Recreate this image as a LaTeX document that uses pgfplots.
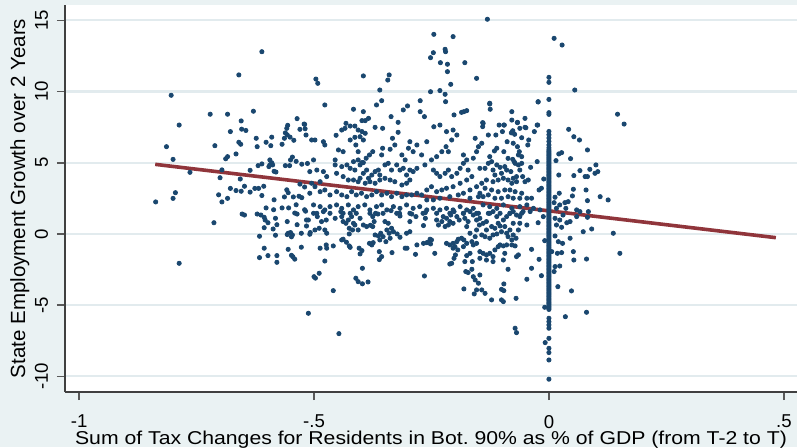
\documentclass[border=0pt]{standalone}
\usepackage{pgfplots}
\pgfplotsset{compat=1.18}
\usepackage{pgfplotstable}
\usepackage{fontspec}
\setmainfont{Liberation Sans}

\definecolor{stnavy}{RGB}{26,71,111}
\definecolor{stmaroon}{RGB}{144,53,59}
\definecolor{stbg}{RGB}{234,242,243}
\definecolor{stgrid}{RGB}{226,235,238}

% state-by-period observations: tax change (x) vs. employment growth (y)
\pgfplotstableread{
x y
-0.804 9.74
-0.721 8.41
-0.684 8.41
-0.629 8.62
-0.787 7.65
-0.655 7.94
-0.678 7.19
-0.654 7.36
-0.645 7.27
-0.536 8.10
-0.556 7.63
-0.558 7.42
-0.561 7.10
-0.557 6.96
-0.521 7.72
-0.519 7.39
-0.517 6.95
-0.814 6.13
-0.711 6.20
-0.660 6.44
-0.656 6.30
-0.623 6.72
-0.621 6.13
-0.602 6.44
-0.590 6.80
-0.592 6.20
-0.568 6.30
-0.563 6.72
-0.551 6.80
-0.543 6.58
-0.800 5.24
-0.666 5.62
-0.684 5.43
-0.688 5.28
-0.594 5.20
-0.590 5.00
-0.594 4.85
-0.588 4.85
-0.596 4.73
-0.611 4.92
-0.619 4.80
-0.561 4.80
-0.552 4.80
-0.550 5.20
-0.546 5.40
-0.538 5.10
-0.526 4.90
-0.514 4.95
-0.764 4.33
-0.696 4.50
-0.700 3.95
-0.657 3.86
-0.636 4.47
-0.585 4.40
-0.581 4.35
-0.678 3.20
-0.666 3.05
-0.655 3.00
-0.648 3.35
-0.636 2.94
-0.626 3.20
-0.618 3.20
-0.607 3.35
-0.611 2.70
-0.703 2.75
-0.684 2.50
-0.696 2.25
-0.795 2.90
-0.800 2.50
-0.837 2.25
-0.585 2.40
-0.563 2.60
-0.558 3.10
-0.555 2.90
-0.544 2.60
-0.532 2.65
-0.526 2.55
-0.530 3.50
-0.520 3.30
-0.602 1.83
-0.586 1.70
-0.568 1.83
-0.554 1.83
-0.538 2.05
-0.520 1.70
-0.541 1.47
-0.653 1.40
-0.621 1.40
-0.611 12.80
-0.660 11.17
-0.648 1.33
-0.713 0.79
-0.787 -2.06
-0.613 1.33
-0.606 1.17
-0.604 0.98
-0.598 0.79
-0.582 1.10
-0.579 0.65
-0.587 0.35
-0.606 0.44
-0.616 -0.16
-0.582 -0.09
-0.606 -1.00
-0.616 -1.66
-0.598 -1.52
-0.579 -1.52
-0.579 -1.99
-0.557 0.87
-0.555 0.05
-0.550 0.10
-0.546 -0.07
-0.548 -0.20
-0.557 -0.04
-0.555 -1.08
-0.548 -1.50
-0.545 -1.60
-0.541 -1.77
-0.536 0.65
-0.527 0.05
-0.527 -0.93
-0.516 0.98
-0.516 0.56
-0.512 0.98
-0.536 1.40
-0.518 1.60
-0.508 0.10
-0.512 -5.57
-0.509 -0.02
-0.501 1.45
-0.493 1.22
-0.480 1.57
-0.484 0.87
-0.474 0.98
-0.498 0.28
-0.489 0.40
-0.477 0.28
-0.473 0.05
-0.487 -1.00
-0.474 -0.77
-0.473 -1.00
-0.459 -0.84
-0.477 -1.90
-0.500 -3.00
-0.497 -3.10
-0.489 -2.76
-0.459 -3.98
-0.447 -7.00
-0.455 1.10
-0.441 -0.42
-0.438 -0.37
-0.431 -0.58
-0.425 -0.84
-0.423 -0.94
-0.443 1.57
-0.441 1.22
-0.438 0.87
-0.432 0.75
-0.427 0.98
-0.420 1.22
-0.423 1.45
-0.416 0.75
-0.425 0.40
-0.418 0.28
-0.413 0.63
-0.425 0.00
-0.406 0.28
-0.402 1.10
-0.395 0.63
-0.388 0.52
-0.380 0.61
-0.404 -1.00
-0.398 -1.17
-0.402 -1.40
-0.397 -2.41
-0.411 -3.11
-0.406 -3.35
-0.397 -3.50
-0.385 -3.37
-0.382 -0.66
-0.377 -0.77
-0.374 -0.61
-0.370 -0.07
-0.363 -0.14
-0.360 -0.42
-0.358 0.05
-0.353 -0.19
-0.375 1.22
-0.369 1.45
-0.364 1.40
-0.372 0.87
-0.375 0.52
-0.349 0.87
-0.342 0.75
-0.345 0.28
-0.340 0.05
-0.335 0.40
-0.331 0.16
-0.323 0.00
-0.317 -0.23
-0.338 -0.30
-0.347 -0.54
-0.361 -1.24
-0.356 -1.59
-0.361 -1.80
-0.334 -1.31
-0.336 1.64
-0.318 1.45
-0.317 1.26
-0.292 1.40
-0.283 1.22
-0.263 1.50
-0.263 1.10
-0.296 0.87
-0.303 0.05
-0.296 0.16
-0.306 -1.00
-0.302 -1.00
-0.281 -0.77
-0.284 -1.43
-0.265 -2.95
-0.267 -0.66
-0.260 -0.61
-0.255 -0.56
-0.253 -0.37
-0.250 -0.42
-0.252 -0.70
-0.243 -1.36
-0.267 0.59
-0.239 0.98
-0.235 0.63
-0.225 1.22
-0.228 0.87
-0.218 1.10
-0.221 0.52
-0.214 0.63
-0.211 0.87
-0.204 0.75
-0.209 1.33
-0.196 1.22
-0.191 0.98
-0.202 1.57
-0.182 1.45
-0.179 1.10
-0.172 0.87
-0.168 1.57
-0.161 1.33
-0.154 0.98
-0.150 1.45
-0.175 0.52
-0.168 0.05
-0.157 -0.19
-0.154 0.28
-0.148 0.63
-0.218 -0.66
-0.211 -0.77
-0.204 -0.66
-0.200 -0.89
-0.196 -0.54
-0.193 -0.37
-0.186 -0.30
-0.181 -0.42
-0.175 -0.66
-0.182 -0.89
-0.164 -0.54
-0.161 -0.77
-0.154 -0.66
-0.168 -1.36
-0.175 -1.52
-0.163 -1.94
-0.179 -1.94
-0.177 -2.64
-0.172 -2.71
-0.164 -2.48
-0.161 -3.00
-0.157 -3.23
-0.150 -3.46
-0.154 -3.93
-0.159 -4.21
-0.181 -3.86
-0.211 -2.11
-0.207 -2.06
-0.202 -1.71
-0.199 -1.47
-0.204 -1.00
-0.194 -1.12
-0.131 15.08
-0.245 14.02
-0.204 13.86
0.011 13.74
0.028 13.27
-0.246 12.73
-0.252 12.38
-0.221 12.97
-0.220 12.80
-0.231 12.03
-0.216 11.92
-0.216 11.40
-0.179 12.03
-0.209 10.51
-0.154 10.93
-0.496 10.88
-0.492 10.58
-0.395 11.10
-0.340 11.17
-0.343 10.81
-0.360 10.11
-0.356 9.36
-0.252 9.99
-0.232 10.07
-0.221 9.81
-0.220 9.29
-0.477 9.06
-0.126 9.18
-0.125 8.76
-0.416 8.76
-0.395 8.59
-0.367 9.06
-0.384 8.12
-0.391 7.96
-0.398 7.96
-0.336 8.24
-0.321 7.84
-0.310 8.71
-0.301 8.99
-0.274 9.36
-0.274 8.59
-0.265 8.24
-0.202 8.36
-0.186 8.54
-0.181 8.59
-0.175 8.66
-0.140 7.77
-0.141 7.54
-0.106 7.65
-0.096 7.65
-0.079 8.59
-0.077 7.19
-0.067 7.82
-0.051 8.12
-0.049 7.46
-0.024 7.65
-0.023 9.29
-0.520 7.70
-0.498 6.60
-0.530 7.35
-0.432 7.77
-0.423 7.58
-0.413 7.58
-0.441 7.30
-0.434 7.42
-0.453 6.93
-0.406 7.30
-0.398 7.19
-0.391 7.07
-0.402 6.83
-0.395 6.60
-0.413 6.79
-0.423 6.60
-0.411 6.25
-0.406 5.78
-0.370 7.49
-0.354 7.42
-0.333 6.72
-0.321 7.14
-0.328 6.25
-0.338 5.95
-0.354 6.02
-0.356 5.55
-0.375 5.78
-0.382 5.55
-0.389 5.32
-0.398 5.01
-0.406 5.20
-0.416 5.08
-0.505 6.60
-0.480 6.48
-0.477 6.25
-0.448 5.90
-0.438 5.78
-0.455 5.20
-0.455 4.85
-0.441 4.73
-0.452 4.26
-0.501 5.20
-0.509 4.38
-0.494 4.49
-0.480 4.38
-0.473 4.03
-0.487 3.67
-0.505 3.56
-0.430 4.85
-0.423 4.61
-0.413 4.49
-0.402 4.85
-0.395 5.01
-0.388 4.49
-0.395 4.26
-0.402 3.91
-0.384 3.91
-0.377 4.14
-0.370 4.38
-0.363 4.49
-0.360 4.14
-0.349 4.85
-0.342 4.96
-0.335 4.49
-0.324 4.85
-0.317 4.49
-0.310 4.61
-0.303 4.14
-0.296 4.49
-0.289 4.38
-0.281 4.61
-0.296 3.79
-0.303 3.56
-0.313 3.44
-0.328 3.67
-0.338 3.79
-0.349 3.91
-0.360 3.79
-0.370 3.56
-0.381 3.67
-0.391 3.56
-0.406 3.67
-0.416 3.79
-0.427 3.79
-0.438 4.03
-0.296 6.48
-0.281 6.25
-0.260 6.48
-0.245 7.53
-0.232 7.65
-0.218 7.19
-0.204 7.30
-0.196 6.95
-0.207 6.60
-0.219 6.13
-0.214 5.78
-0.228 5.78
-0.239 5.43
-0.250 5.20
-0.264 4.85
-0.271 5.55
-0.289 5.78
-0.299 6.02
-0.313 5.55
-0.306 5.20
-0.246 4.49
-0.239 4.26
-0.232 4.03
-0.221 4.26
-0.214 4.49
-0.207 4.03
-0.196 4.26
-0.189 4.61
-0.182 4.96
-0.175 5.20
-0.161 5.32
-0.154 5.78
-0.157 6.72
-0.150 6.13
-0.182 5.55
-0.172 4.49
-0.164 4.03
-0.175 3.79
-0.189 3.56
-0.204 3.32
-0.218 3.21
-0.228 3.09
-0.239 2.97
-0.250 3.32
-0.260 3.09
-0.271 2.74
-0.281 2.86
-0.292 2.74
-0.260 2.39
-0.246 2.39
-0.232 2.51
-0.211 2.62
-0.193 2.74
-0.182 2.86
-0.168 3.09
-0.154 3.32
-0.150 2.62
-0.168 2.51
-0.509 2.86
-0.498 3.32
-0.487 2.97
-0.477 3.09
-0.466 2.74
-0.452 2.97
-0.441 2.74
-0.430 2.62
-0.420 2.97
-0.410 2.74
-0.399 2.86
-0.388 2.62
-0.377 2.74
-0.367 2.97
-0.356 2.74
-0.345 2.86
-0.335 2.62
-0.324 2.86
-0.313 2.62
-0.303 2.74
-0.501 2.04
-0.487 1.92
-0.477 1.69
-0.466 1.92
-0.452 2.04
-0.441 1.80
-0.427 2.04
-0.416 1.69
-0.406 1.92
-0.392 2.04
-0.381 1.69
-0.367 1.92
-0.356 2.04
-0.345 1.69
-0.331 1.92
-0.317 1.80
-0.303 2.04
-0.289 1.80
-0.275 1.92
-0.260 1.69
-0.246 1.80
-0.232 1.69
-0.218 1.80
-0.204 1.69
-0.189 1.92
-0.175 1.69
-0.161 1.80
-0.494 1.45
-0.466 1.45
-0.438 1.45
-0.410 1.45
-0.381 1.45
-0.353 1.45
-0.324 1.45
-0.296 1.45
-0.268 1.45
-0.239 1.45
-0.211 1.45
-0.182 1.45
-0.154 1.45
-0.147 1.10
-0.140 0.75
-0.133 0.87
-0.129 1.45
-0.119 1.57
-0.111 1.22
-0.108 0.75
-0.104 0.56
-0.097 0.98
-0.090 1.22
-0.083 1.45
-0.076 1.57
-0.069 1.33
-0.062 1.22
-0.055 1.57
-0.115 0.40
-0.122 0.52
-0.133 0.28
-0.143 -0.07
-0.136 -0.19
-0.126 -0.30
-0.119 -0.07
-0.111 0.00
-0.101 0.16
-0.090 0.05
-0.083 0.28
-0.076 -0.07
-0.065 0.28
-0.070 -0.30
-0.079 -0.42
-0.087 -0.19
-0.062 0.75
-0.047 0.63
-0.076 0.75
-0.094 0.52
-0.147 -1.24
-0.140 -1.36
-0.133 -1.47
-0.126 -1.36
-0.119 -1.59
-0.115 -1.12
-0.108 -0.89
-0.104 -0.77
-0.097 -0.84
-0.090 -0.77
-0.079 -0.77
-0.072 -0.84
-0.065 -1.47
-0.069 -1.59
-0.094 -1.36
-0.097 -1.83
-0.119 -1.94
-0.133 -1.83
-0.147 -1.71
-0.087 -2.48
-0.096 -3.51
-0.101 -3.89
-0.096 -3.98
-0.097 -4.75
-0.101 -4.63
-0.122 -4.63
-0.136 -4.17
-0.143 -3.93
-0.147 -2.88
-0.070 -4.52
-0.047 -3.18
-0.037 -1.08
-0.037 -2.41
-0.021 -1.78
-0.016 -2.93
-0.072 -6.62
-0.069 -6.93
-0.009 -0.47
-0.012 1.22
-0.023 0.79
-0.009 -5.15
-0.008 -7.63
-0.126 9.13
-0.023 9.27
-0.079 8.00
-0.067 7.84
-0.062 7.42
-0.051 7.49
-0.025 7.65
-0.141 7.82
-0.095 7.65
-0.077 7.25
-0.073 7.00
-0.080 7.10
-0.099 7.19
-0.113 6.95
-0.129 6.95
-0.031 7.19
-0.058 6.76
-0.043 6.60
-0.045 6.25
-0.089 6.48
-0.076 6.37
-0.143 6.37
-0.111 6.02
-0.116 5.83
-0.096 5.78
-0.067 6.13
-0.063 5.78
-0.065 5.55
-0.058 5.43
-0.077 5.24
-0.087 5.31
-0.074 5.08
-0.126 5.43
-0.122 5.08
-0.129 4.96
-0.136 4.61
-0.147 4.61
-0.111 4.85
-0.104 4.68
-0.094 4.73
-0.090 4.49
-0.101 4.26
-0.115 4.14
-0.119 4.49
-0.081 4.38
-0.076 3.91
-0.069 4.03
-0.062 4.49
-0.065 4.85
-0.058 4.96
-0.072 4.96
-0.039 4.68
-0.025 5.08
-0.044 3.79
-0.051 3.67
-0.056 4.03
-0.069 3.67
-0.079 3.56
-0.087 3.79
-0.097 3.91
-0.108 3.79
-0.119 3.67
-0.133 3.79
-0.143 3.56
-0.136 3.21
-0.122 3.09
-0.108 2.97
-0.094 3.09
-0.083 3.09
-0.072 2.97
-0.058 2.86
-0.047 2.51
-0.037 2.51
-0.062 2.51
-0.076 2.51
-0.087 2.62
-0.101 2.51
-0.115 2.51
-0.129 2.74
-0.140 2.62
-0.147 2.86
-0.016 3.21
-0.021 3.09
-0.011 3.86
-0.140 2.04
-0.126 1.92
-0.111 1.80
-0.097 2.04
-0.079 1.80
-0.062 1.92
-0.047 2.04
-0.033 1.80
-0.019 1.69
-0.126 1.45
-0.104 1.45
-0.083 1.45
-0.058 1.45
-0.040 1.57
0.021 5.62
0.027 5.71
0.015 5.15
0.046 5.29
0.082 5.90
0.042 7.35
0.053 6.83
0.065 6.60
0.100 4.85
0.104 4.38
0.055 10.11
0.146 8.41
0.160 7.72
0.022 2.86
0.013 2.58
0.011 2.20
0.052 3.14
0.050 2.67
0.079 3.09
0.082 2.34
0.109 2.62
0.126 2.39
0.021 4.14
0.053 4.10
0.066 4.45
0.077 4.03
0.082 4.03
0.087 4.54
0.098 4.26
0.016 1.80
0.023 2.04
0.034 2.20
0.041 2.27
0.036 1.80
0.059 1.69
0.066 1.57
0.084 1.57
0.013 1.10
0.023 0.98
0.030 1.33
0.038 0.79
0.027 0.47
0.016 0.63
0.045 0.87
0.059 1.22
0.082 1.17
0.073 0.16
0.091 0.35
0.137 0.05
0.151 -1.36
0.080 -1.76
0.052 -1.24
0.053 -1.83
0.045 -0.30
0.029 -0.66
0.020 -0.54
0.013 -0.14
0.006 -1.24
0.018 -1.36
0.027 -1.31
0.023 -2.25
0.013 -2.29
0.011 -2.64
0.019 -3.70
0.048 -4.00
0.035 -5.81
0.080 -5.50
0 11.00
0 10.65
0 9.45
0 8.52
0 8.40
0 7.20
0 6.97
0 6.74
0 6.50
0 6.25
0 6.05
0 5.90
0 5.80
0 5.70
0 5.60
0 5.50
0 5.40
0 5.30
0 5.20
0 5.10
0 5.00
0 4.90
0 4.80
0 4.70
0 4.60
0 4.50
0 4.40
0 4.30
0 4.20
0 4.10
0 4.00
0 3.90
0 3.80
0 3.70
0 3.60
0 3.50
0 3.40
0 3.30
0 3.20
0 3.10
0 3.00
0 2.90
0 2.80
0 2.70
0 2.60
0 2.50
0 2.40
0 2.30
0 2.20
0 2.10
0 2.00
0 1.90
0 1.80
0 1.70
0 1.60
0 1.50
0 1.40
0 1.30
0 1.20
0 1.10
0 1.00
0 0.90
0 0.80
0 0.70
0 0.60
0 0.50
0 0.40
0 0.30
0 0.20
0 0.10
0 0.00
0 -0.10
0 -0.20
0 -0.30
0 -0.40
0 -0.50
0 -0.60
0 -0.70
0 -0.80
0 -0.90
0 -1.00
0 -1.10
0 -1.20
0 -1.30
0 -1.40
0 -1.50
0 -1.60
0 -1.70
0 -1.80
0 -1.90
0 -2.00
0 -2.10
0 -2.20
0 -2.30
0 -2.40
0 -2.50
0 -2.60
0 -2.70
0 -2.80
0 -2.90
0 -3.00
0 -3.10
0 -3.20
0 -3.30
0 -3.40
0 -3.50
0 -3.60
0 -3.70
0 -3.80
0 -3.90
0 -4.00
0 -4.10
0 -4.20
0 -4.30
0 -4.40
0 -4.50
0 -4.60
0 -4.70
0 -4.80
0 -4.90
0 -5.00
0 -5.10
0 -5.20
0 -5.30
0 -5.92
0 -6.16
0 -6.39
0 -6.62
0 -7.33
0 -8.03
0 -8.33
0 -8.85
0 -10.20
}\scatterdata

\begin{document}
\begin{tikzpicture}
% graph region
\fill[stbg] (-32.5pt,-27.5pt) rectangle (366pt,196pt);
\begin{axis}[
  at={(0pt,0pt)}, anchor=south west,
  width=366pt, height=193.5pt, scale only axis,
  xmin=-1.03, xmax=0.528, ymin=-11.1, ymax=16.08,
  axis background/.style={fill=white},
  axis x line*=bottom, axis y line*=left,
  axis line style={line width=0.75pt, black!75},
  xtick={-1,-0.5,0,0.5}, xticklabels={-1,-.5,0,.5},
  ytick={-10,-5,0,5,10,15},
  tick align=outside, major tick length=4pt,
  tick style={line width=0.75pt, black!65},
  ymajorgrids, grid style={stgrid, line width=1.1pt},
  /pgf/number format/assume math mode=true,
  tick label style={font=\fontsize{9.3}{11}\selectfont},
  yticklabel style={rotate=90, anchor=base},
  yticklabel shift=4.5pt,
  xticklabel style={anchor=north},
  xticklabel shift=4pt,
  xlabel={Sum of Tax Changes for Residents in Bot.\ 90\% as \% of GDP (from T-2 to T)},
  ylabel={State Employment Growth over 2 Years},
  every axis x label/.style={at={(axis description cs:0.5,-0.1344)}, anchor=base,
    xscale=1.14, font=\fontsize{9.3}{11}\selectfont},
  every axis y label/.style={at={(axis description cs:-0.0546,0.5)}, rotate=90, anchor=base,
    font=\fontsize{10.25}{12}\selectfont},
  clip=false,
]
\addplot[only marks, mark=*, mark size=1.05pt, color=stnavy] table[x=x, y=y] {\scatterdata};
\addplot[stmaroon, line width=1.8pt] coordinates {(-0.838,4.89) (0.483,-0.26)};
\end{axis}
\pgfresetboundingbox
\useasboundingbox (-32.5pt,-27.5pt) rectangle (366pt,196pt);
\end{tikzpicture}
\end{document}
